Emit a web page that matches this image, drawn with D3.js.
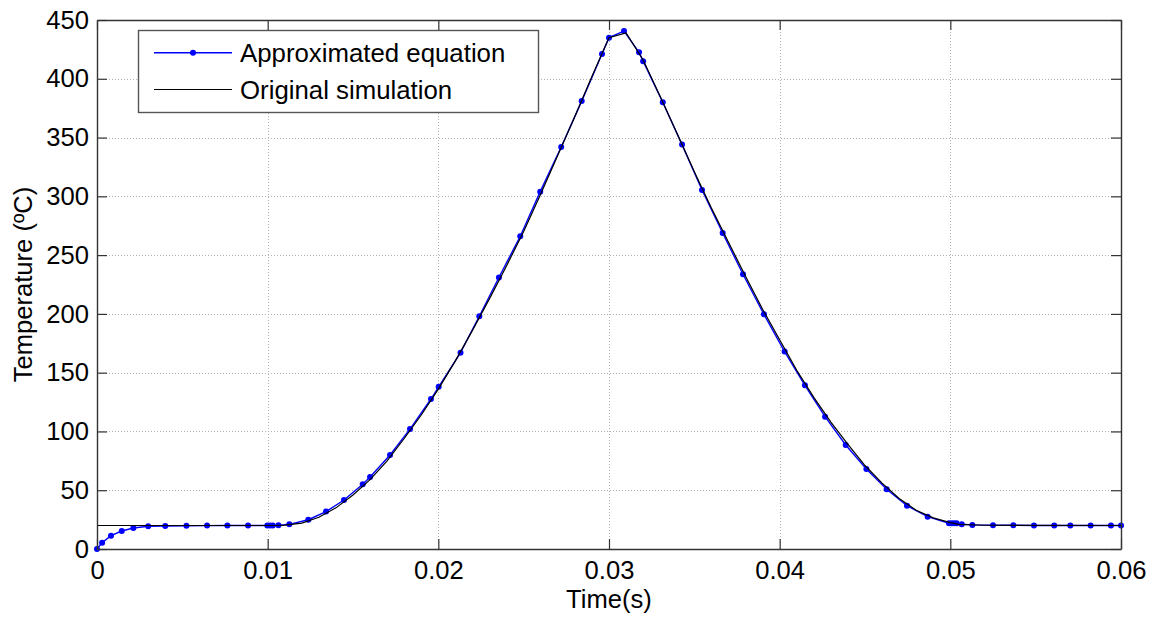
<!DOCTYPE html>
<html><head><meta charset="utf-8">
<script src="https://cdn.jsdelivr.net/npm/d3@7"></script>
<style>
html,body{margin:0;padding:0;background:#fff;}
svg{display:block;}
text{font-family:"Liberation Sans",Arial,Helvetica,sans-serif;fill:#000;}
</style></head>
<body>
<svg id="chart" width="1152" height="618"></svg>
<script>
// ---- data ----
const seriesNames = ["Approximated equation", "Original simulation"];
const approxTime = [0,0.0003,0.00082,0.00145,0.00213,0.003,0.004,0.00524,0.00645,0.00764,0.00885,0.00998,0.01014,0.0103,0.01063,0.01127,0.01238,0.01342,0.01447,0.01557,0.016,0.01717,0.01834,0.01957,0.02002,0.0213,0.0224,0.02355,0.0248,0.02597,0.0272,0.0284,0.02959,0.03,0.03088,0.03176,0.032,0.03315,0.03428,0.03545,0.03666,0.03785,0.03908,0.04029,0.04148,0.04266,0.04387,0.04508,0.04627,0.04746,0.04867,0.04992,0.05008,0.05023,0.05037,0.05067,0.05129,0.0525,0.05369,0.0549,0.05609,0.05703,0.05822,0.05941,0.06];
const approxTemp = [0,5.4,11.3,15.3,17.9,19.3,19.6,19.8,19.9,20,20,20,20,20,20.1,21,24.9,31.8,41.7,55,61.2,80,102,127.6,138,167,198,231,266,304,342,381,421,435,440.6,422.5,415,380,344,305.4,268.8,233.7,199.6,167.9,139.2,112.6,88.5,68,50.8,36.8,27.5,21.9,22,22,21.9,21,20.5,20.3,20.2,20,20,20,20,20,20];
const simTime = [0,0.0105,0.011,0.012,0.013,0.014,0.015,0.016,0.017,0.018,0.019,0.020,0.021,0.022,0.023,0.024,0.025,0.026,0.027,0.028,0.029,0.030,0.031,0.032,0.033,0.034,0.035,0.036,0.037,0.038,0.039,0.040,0.041,0.042,0.043,0.044,0.045,0.046,0.047,0.048,0.049,0.050,0.0505,0.052,0.06];
const simTemp = [20,20,20.3,22,27,35,46,59,75,94,114,136,160,186,213,241,270,302,335,368,402,435,439,416,385,353,321,290,261,232,204,178,152,129,108,89,71,56,43,33,26.5,22.5,21,20.2,20];
const xTicks = [0,0.01,0.02,0.03,0.04,0.05,0.06];
const xTickLabels = ["0","0.01","0.02","0.03","0.04","0.05","0.06"];
const yTicks = [0,50,100,150,200,250,300,350,400,450];
const xTitle = "Time(s)";
const yTitle = "Temperature (ºC)";

// ---- layout ----
const L = 97, R = 1121, T = 20, B = 549;
const svg = d3.select("#chart");
const x = d3.scaleLinear().domain([0,0.06]).range([L,R]);
const y = d3.scaleLinear().domain([0,450]).range([B,T]);

// grid
const grid = svg.append("g").attr("stroke","#b4b4b4").attr("stroke-width",1).attr("stroke-dasharray","1,2");
grid.selectAll("line.gx").data(xTicks.slice(1,-1)).join("line")
  .attr("x1",d=>Math.round(x(d))+0.5).attr("x2",d=>Math.round(x(d))+0.5).attr("y1",T).attr("y2",B);
grid.selectAll("line.gy").data(yTicks.slice(1,-1)).join("line")
  .attr("y1",d=>Math.round(y(d))+0.5).attr("y2",d=>Math.round(y(d))+0.5).attr("x1",L).attr("x2",R);

// data lines
const lineA = d3.line().x(i=>x(approxTime[i])).y(i=>y(approxTemp[i]));
const lineS = d3.line().x(i=>x(simTime[i])).y(i=>y(simTemp[i]));
const idxA = d3.range(approxTime.length);
const idxS = d3.range(simTime.length);
svg.append("path").attr("d",lineA(idxA)).attr("fill","none").attr("stroke","#0000ff").attr("stroke-width",1.4);
svg.append("g").selectAll("circle").data(idxA).join("circle")
  .attr("cx",i=>x(approxTime[i])).attr("cy",i=>y(approxTemp[i])).attr("r",3).attr("fill","#0000ff");
svg.append("path").attr("d",lineS(idxS)).attr("fill","none").attr("stroke","#000").attr("stroke-width",1.2);

// axes
const fmtX = d => xTickLabels[xTicks.indexOf(d)];
const axB = svg.append("g").attr("transform",`translate(0,${B})`)
  .call(d3.axisBottom(x).tickValues(xTicks).tickFormat(fmtX).tickSizeInner(-10).tickSizeOuter(0).tickPadding(12));
const axT = svg.append("g").attr("transform",`translate(0,${T})`)
  .call(d3.axisTop(x).tickValues(xTicks).tickFormat("").tickSizeInner(-10).tickSizeOuter(0));
const axL = svg.append("g").attr("transform",`translate(${L},0)`)
  .call(d3.axisLeft(y).tickValues(yTicks).tickSizeInner(-10).tickSizeOuter(0).tickPadding(8));
const axR = svg.append("g").attr("transform",`translate(${R},0)`)
  .call(d3.axisRight(y).tickValues(yTicks).tickFormat("").tickSizeInner(-10).tickSizeOuter(0));
[axB,axT,axL,axR].forEach(a=>{
  a.selectAll("path.domain").attr("stroke","#333").attr("stroke-width",1.4);
  a.selectAll(".tick line").attr("stroke","#333").attr("stroke-width",1.2);
  a.selectAll("text").attr("font-size",25.6).attr("font-family",'"Liberation Sans",Arial,sans-serif').attr("fill","#000");
});

// titles
svg.append("text").attr("x",(L+R)/2).attr("y",608).attr("text-anchor","middle").attr("font-size",25.6).text(xTitle);
svg.append("text").attr("transform",`translate(32,${(T+B)/2}) rotate(-90)`).attr("text-anchor","middle").attr("font-size",25.6).text(yTitle);

// legend
const lg = svg.append("g");
lg.append("rect").attr("x",138.5).attr("y",30.5).attr("width",400).attr("height",82).attr("fill","#fff").attr("stroke","#555").attr("stroke-width",1.4);
const rows = [{y:52.7,color:"#0000ff",marker:true},{y:89.5,color:"#000",marker:false}];
rows.forEach((r,i)=>{
  lg.append("line").attr("x1",154).attr("x2",232).attr("y1",r.y).attr("y2",r.y).attr("stroke",r.color).attr("stroke-width",i===0?1.4:1.2);
  if(r.marker) lg.append("circle").attr("cx",193).attr("cy",r.y).attr("r",3).attr("fill",r.color);
  lg.append("text").attr("x",240).attr("y",r.y+9.5).attr("font-size",25.8).text(seriesNames[i]);
});
</script>
</body></html>
